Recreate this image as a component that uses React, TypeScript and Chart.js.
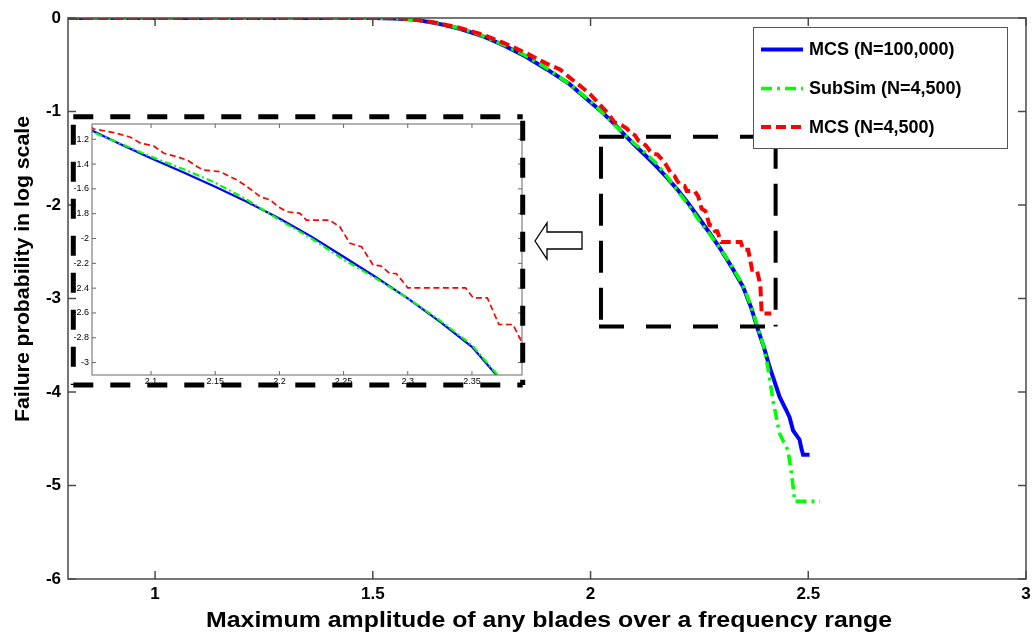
import React, { useEffect, useRef } from "react";
import { Chart, registerables } from "chart.js";

Chart.register(...registerables);

const FONT = '"Liberation Sans", Arial, Helvetica, sans-serif';

const X_TITLE = "Maximum amplitude of any blades over a frequency range";
const Y_TITLE = "Failure probability in log scale";

const MAIN_X_TICKS = [1, 1.5, 2, 2.5, 3];
const MAIN_Y_TICKS = [0, -1, -2, -3, -4, -5, -6];
const INSET_X_TICKS = [2.1, 2.15, 2.2, 2.25, 2.3, 2.35];
const INSET_Y_TICKS = [-1.2, -1.4, -1.6, -1.8, -2, -2.2, -2.4, -2.6, -2.8, -3];

const SERIES_NAMES = ["MCS (N=100,000)", "SubSim (N=4,500)", "MCS (N=4,500)"];

// MCS with N = 100,000
const MCS_100K_X = [0.8, 1.5, 1.55, 1.6, 1.65, 1.7, 1.75, 1.8, 1.85, 1.9, 1.95, 2.0, 2.025, 2.054, 2.075, 2.1, 2.125, 2.15, 2.175, 2.2, 2.225, 2.25, 2.275, 2.3, 2.325, 2.35, 2.369, 2.385, 2.398, 2.411, 2.422, 2.434, 2.449, 2.457, 2.465, 2.48, 2.484, 2.488, 2.503];
const MCS_100K_Y = [0, 0, -0.005, -0.02, -0.06, -0.115, -0.19, -0.29, -0.41, -0.55, -0.7, -0.9, -1.0, -1.13, -1.235, -1.353, -1.465, -1.582, -1.705, -1.838, -1.985, -2.147, -2.31, -2.483, -2.67, -2.873, -3.1, -3.34, -3.52, -3.73, -3.88, -4.05, -4.19, -4.27, -4.41, -4.51, -4.6, -4.67, -4.67];

// Subset simulation with N = 4,500
const SUBSIM_X = [0.8, 1.5, 1.55, 1.6, 1.65, 1.7, 1.75, 1.8, 1.85, 1.9, 1.95, 2.0, 2.025, 2.054, 2.075, 2.1, 2.125, 2.15, 2.175, 2.2, 2.225, 2.25, 2.275, 2.3, 2.325, 2.35, 2.37, 2.388, 2.398, 2.407, 2.419, 2.434, 2.445, 2.453, 2.46, 2.465, 2.469, 2.527];
const SUBSIM_Y = [0, 0, -0.005, -0.02, -0.055, -0.11, -0.185, -0.285, -0.4, -0.54, -0.7, -0.89, -1.0, -1.14, -1.23, -1.34, -1.44, -1.55, -1.69, -1.85, -2.0, -2.17, -2.32, -2.48, -2.66, -2.86, -3.1, -3.37, -3.52, -3.73, -4.09, -4.44, -4.55, -4.62, -4.82, -5.01, -5.17, -5.17];

// MCS with N = 4,500
const MCS_4500_X = [0.8, 1.56, 1.6, 1.65, 1.7, 1.75, 1.8, 1.85, 1.9, 1.93, 1.95, 1.98, 2.0, 2.02, 2.04, 2.0555, 2.071, 2.084, 2.092, 2.102, 2.11, 2.12, 2.128, 2.136, 2.141, 2.154, 2.159, 2.167, 2.173, 2.18, 2.185, 2.193, 2.199, 2.206, 2.216, 2.221, 2.239, 2.247, 2.255, 2.264, 2.273, 2.279, 2.286, 2.291, 2.3, 2.345, 2.351, 2.362, 2.371, 2.382, 2.39, 2.393, 2.415];
const MCS_4500_Y = [0, 0, -0.02, -0.055, -0.105, -0.175, -0.265, -0.37, -0.49, -0.55, -0.63, -0.74, -0.82, -0.92, -1.02, -1.117, -1.146, -1.184, -1.232, -1.254, -1.313, -1.34, -1.367, -1.421, -1.448, -1.461, -1.488, -1.528, -1.569, -1.622, -1.663, -1.69, -1.743, -1.784, -1.797, -1.851, -1.851, -1.905, -2.039, -2.066, -2.214, -2.22, -2.282, -2.282, -2.397, -2.397, -2.478, -2.478, -2.693, -2.693, -2.86, -3.16, -3.16];

const MAIN_X_RANGE = [0.8, 3];
const MAIN_Y_RANGE = [-6, 0];
const INSET_X_RANGE = [2.054, 2.389];
const INSET_Y_RANGE = [-3.1, -1.077];
const ZOOM_BOX_X = [2.024, 2.425];
const ZOOM_BOX_Y = [-1.27, -3.3];

const pts = (xs: number[], ys: number[]) => xs.map((x, i) => ({ x, y: ys[i] }));

function makeDatasets(inset: boolean): any[] {
  return [
    {
      label: SERIES_NAMES[0],
      data: pts(MCS_100K_X, MCS_100K_Y),
      borderColor: "#0000ff",
      borderWidth: inset ? 2.2 : 4,
      borderDash: [],
      order: 3,
    },
    {
      label: SERIES_NAMES[1],
      data: pts(SUBSIM_X, SUBSIM_Y),
      borderColor: "#00ff00",
      borderWidth: inset ? 2.2 : 3.6,
      borderDash: inset ? [7, 3, 2, 3] : [11, 5, 3, 5],
      order: 2,
    },
    {
      label: SERIES_NAMES[2],
      data: pts(MCS_4500_X, MCS_4500_Y),
      borderColor: "#ff0000",
      borderWidth: inset ? 1.7 : 4,
      borderDash: inset ? [6, 3.5] : [10, 5],
      order: 1,
    },
  ].map((d) => ({ ...d, pointRadius: 0, fill: false, tension: 0 }));
}

function line(ctx: CanvasRenderingContext2D, x1: number, y1: number, x2: number, y2: number) {
  ctx.beginPath();
  ctx.moveTo(x1, y1);
  ctx.lineTo(x2, y2);
  ctx.stroke();
}

function fittedText(
  ctx: CanvasRenderingContext2D,
  text: string,
  cx: number,
  baseline: number,
  size: number,
  targetW: number,
  rotated: boolean
) {
  ctx.save();
  ctx.font = `bold ${size}px ${FONT}`;
  ctx.fillStyle = "#000";
  ctx.textAlign = "center";
  ctx.textBaseline = "alphabetic";
  const w = ctx.measureText(text).width;
  const sx = targetW / w;
  if (rotated) {
    ctx.translate(baseline, cx);
    ctx.rotate(-Math.PI / 2);
  } else {
    ctx.translate(cx, baseline);
  }
  ctx.scale(sx, 1);
  ctx.fillText(text, 0, 0);
  ctx.restore();
}

const mainDecor = {
  id: "mainDecor",
  afterDraw(chart: any) {
    const { ctx, chartArea: a, scales } = chart;
    const x = scales.x;
    const y = scales.y;
    ctx.save();
    // axes box and inward ticks
    ctx.strokeStyle = "#4a4a4a";
    ctx.lineWidth = 1.5;
    ctx.setLineDash([]);
    for (const v of MAIN_X_TICKS) {
      const px = x.getPixelForValue(v);
      line(ctx, px, a.bottom, px, a.bottom - 8);
      line(ctx, px, a.top, px, a.top + 8);
    }
    for (const v of MAIN_Y_TICKS) {
      const py = y.getPixelForValue(v);
      line(ctx, a.left, py, a.left + 8, py);
      line(ctx, a.right, py, a.right - 8, py);
    }
    ctx.strokeRect(a.left, a.top, a.right - a.left, a.bottom - a.top);

    // zoomed region box
    const bx1 = x.getPixelForValue(ZOOM_BOX_X[0]);
    const bx2 = x.getPixelForValue(ZOOM_BOX_X[1]);
    const by1 = y.getPixelForValue(ZOOM_BOX_Y[0]);
    const by2 = y.getPixelForValue(ZOOM_BOX_Y[1]);
    ctx.strokeStyle = "#000";
    ctx.lineWidth = 4;
    ctx.lineCap = "butt";
    ctx.setLineDash([25, 22]);
    line(ctx, bx1 - 2, by1, bx2 + 2, by1);
    line(ctx, bx1 - 2, by2, bx2 + 2, by2);
    ctx.setLineDash([32, 15]);
    line(ctx, bx1, by1 + 10, bx1, by2);
    line(ctx, bx2, by1, bx2, by2);
    ctx.setLineDash([]);

    // hollow arrow pointing to the inset
    ctx.beginPath();
    ctx.moveTo(535, 241);
    ctx.lineTo(547, 223);
    ctx.lineTo(547, 232);
    ctx.lineTo(582, 232);
    ctx.lineTo(582, 249);
    ctx.lineTo(547, 249);
    ctx.lineTo(547, 259);
    ctx.closePath();
    ctx.fillStyle = "#fff";
    ctx.fill();
    ctx.strokeStyle = "#000";
    ctx.lineWidth = 1.3;
    ctx.stroke();

    // legend
    const lx = 753, ly = 27, lw = 254, lh = 121;
    ctx.fillStyle = "#fff";
    ctx.fillRect(lx, ly, lw, lh);
    ctx.strokeStyle = "#555";
    ctx.lineWidth = 1;
    ctx.strokeRect(lx + 0.5, ly + 0.5, lw, lh);
    const rows = [49.5, 88.5, 127];
    chart.data.datasets.forEach((ds: any, i: number) => {
      const ry = rows[i];
      ctx.strokeStyle = ds.borderColor;
      ctx.lineWidth = ds.borderWidth;
      ctx.setLineDash(ds.borderDash || []);
      line(ctx, 761, ry, 803, ry);
      ctx.setLineDash([]);
      ctx.fillStyle = "#000";
      ctx.font = `bold 18px ${FONT}`;
      ctx.textAlign = "left";
      ctx.textBaseline = "middle";
      ctx.fillText(ds.label, 809, ry + 1);
    });

    // axis titles
    fittedText(ctx, X_TITLE, (a.left + a.right) / 2 + 2, 627, 22, 686, false);
    fittedText(ctx, Y_TITLE, 269, 29, 21, 306, true);
    ctx.restore();
  },
};

const insetDecor = {
  id: "insetDecor",
  afterDraw(chart: any) {
    const { ctx, chartArea: a, scales } = chart;
    const x = scales.x;
    const y = scales.y;
    ctx.save();
    ctx.strokeStyle = "#666";
    ctx.lineWidth = 1;
    ctx.setLineDash([]);
    for (const v of INSET_X_TICKS) {
      const px = x.getPixelForValue(v);
      line(ctx, px, a.bottom, px, a.bottom - 4);
      line(ctx, px, a.top, px, a.top + 4);
    }
    for (const v of INSET_Y_TICKS) {
      const py = y.getPixelForValue(v);
      line(ctx, a.left, py, a.left + 4, py);
      line(ctx, a.right, py, a.right - 4, py);
    }
    ctx.strokeRect(a.left, a.top, a.right - a.left, a.bottom - a.top);

    // thick dashed frame around the inset
    const fl = 3.3, fr = 452.7, ft = 3.7, fb = 272;
    ctx.strokeStyle = "#000";
    ctx.lineWidth = 5;
    ctx.setLineDash([20, 17]);
    line(ctx, fl, ft, fr, ft);
    line(ctx, fl, fb, fr, fb);
    ctx.lineDashOffset = -8;
    line(ctx, fl, ft, fl, fb);
    ctx.lineDashOffset = 0;
    line(ctx, fr, ft + 4, fr, fb);
    ctx.restore();
  },
};

function mainConfig(): any {
  return {
    type: "line",
    data: { datasets: makeDatasets(false) },
    options: {
      responsive: false,
      animation: false,
      events: [],
      layout: { padding: { top: 18, right: 10, left: 0, bottom: 0 } },
      plugins: { legend: { display: false }, tooltip: { enabled: false } },
      scales: {
        x: {
          type: "linear",
          min: MAIN_X_RANGE[0],
          max: MAIN_X_RANGE[1],
          afterBuildTicks: (s: any) => {
            s.ticks = MAIN_X_TICKS.map((v) => ({ value: v }));
          },
          afterFit: (s: any) => {
            s.height = 62;
          },
          grid: { display: false, drawTicks: false },
          border: { display: false },
          ticks: {
            autoSkip: false,
            maxRotation: 0,
            padding: 5,
            color: "#000",
            font: { family: FONT, size: 17, weight: "bold" },
            callback: (v: any) => String(v),
          },
        },
        y: {
          type: "linear",
          min: MAIN_Y_RANGE[0],
          max: MAIN_Y_RANGE[1],
          afterBuildTicks: (s: any) => {
            s.ticks = MAIN_Y_TICKS.map((v) => ({ value: v }));
          },
          afterFit: (s: any) => {
            s.width = 68;
          },
          grid: { display: false, drawTicks: false },
          border: { display: false },
          ticks: {
            autoSkip: false,
            padding: 7,
            color: "#000",
            font: { family: FONT, size: 17, weight: "bold" },
            callback: (v: any) => String(v),
          },
        },
      },
    },
    plugins: [mainDecor],
  };
}

function insetConfig(): any {
  return {
    type: "line",
    data: { datasets: makeDatasets(true) },
    options: {
      responsive: false,
      animation: false,
      events: [],
      layout: { padding: { top: 11, right: 6, left: 0, bottom: 0 } },
      plugins: { legend: { display: false }, tooltip: { enabled: false } },
      scales: {
        x: {
          type: "linear",
          min: INSET_X_RANGE[0],
          max: INSET_X_RANGE[1],
          afterBuildTicks: (s: any) => {
            s.ticks = INSET_X_TICKS.map((v) => ({ value: v }));
          },
          afterFit: (s: any) => {
            s.height = 14;
          },
          grid: { display: false, drawTicks: false },
          border: { display: false },
          ticks: {
            autoSkip: false,
            maxRotation: 0,
            padding: 1,
            color: "#000",
            font: { family: FONT, size: 9 },
            callback: (v: any) => String(v),
          },
        },
        y: {
          type: "linear",
          min: INSET_Y_RANGE[0],
          max: INSET_Y_RANGE[1],
          afterBuildTicks: (s: any) => {
            s.ticks = INSET_Y_TICKS.map((v) => ({ value: v }));
          },
          afterFit: (s: any) => {
            s.width = 22;
          },
          grid: { display: false, drawTicks: false },
          border: { display: false },
          ticks: {
            autoSkip: false,
            padding: 3,
            color: "#000",
            font: { family: FONT, size: 9 },
            callback: (v: any) => String(v),
          },
        },
      },
    },
    plugins: [insetDecor],
  };
}

export default function App() {
  const mainRef = useRef<HTMLCanvasElement>(null);
  const insetRef = useRef<HTMLCanvasElement>(null);

  useEffect(() => {
    const main = new Chart(mainRef.current as HTMLCanvasElement, mainConfig());
    const inset = new Chart(insetRef.current as HTMLCanvasElement, insetConfig());
    return () => {
      main.destroy();
      inset.destroy();
    };
  }, []);

  return (
    <div
      style={{
        position: "fixed",
        left: 0,
        top: 0,
        width: 1036,
        height: 641,
        background: "#fff",
        overflow: "hidden",
      }}
    >
      <canvas
        ref={mainRef}
        width={1036}
        height={641}
        style={{ position: "absolute", left: 0, top: 0 }}
      />
      <canvas
        ref={insetRef}
        width={458}
        height={276}
        style={{ position: "absolute", left: 70, top: 113 }}
      />
    </div>
  );
}
